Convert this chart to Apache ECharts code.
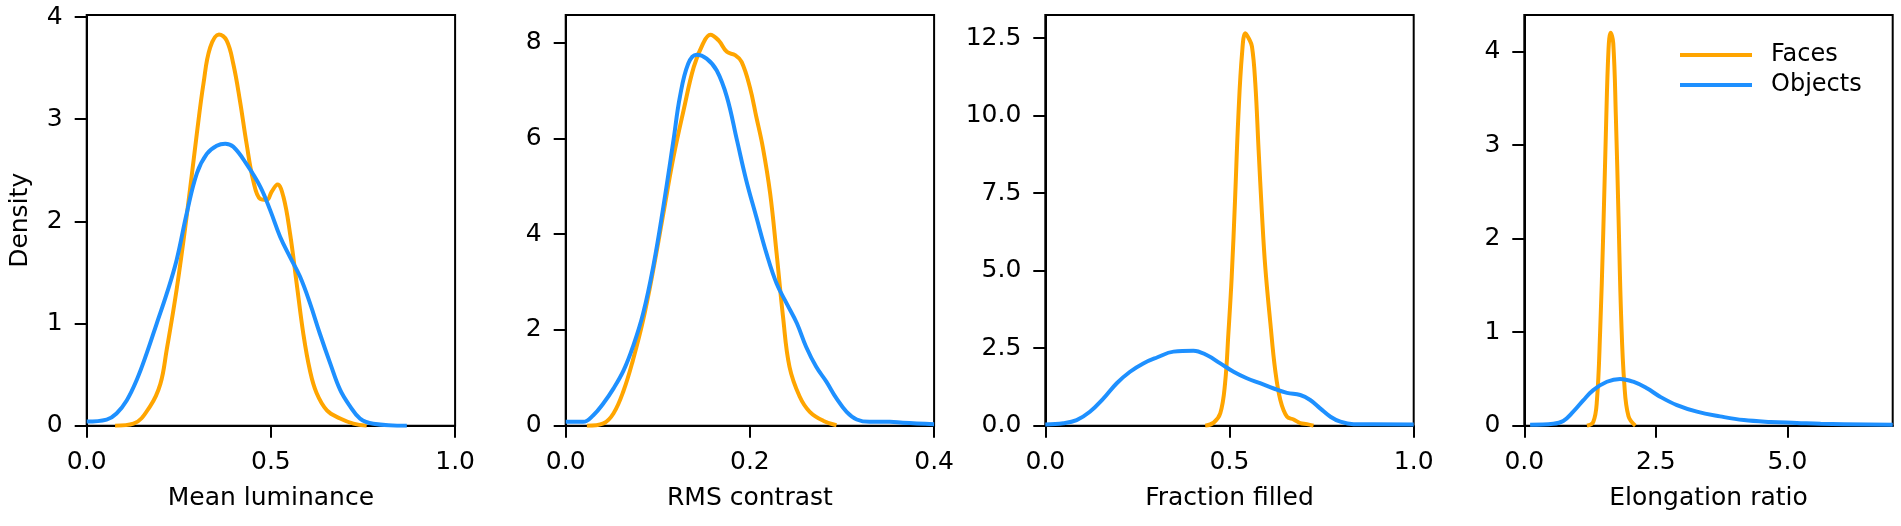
<!DOCTYPE html>
<html>
<head>
<meta charset="utf-8">
<script src="https://cdn.jsdelivr.net/npm/echarts@6/dist/echarts.min.js"></script>
<style>
  html, body { margin: 0; padding: 0; background: #fff; }
  #chart { width: 1901px; height: 526px; }
</style>
</head>
<body>
<div id="chart"></div>
<script>
// 数据：每个面板两条密度曲线 [x, density]
var lumFaces = [[0.077,0],[0.127,0.02],[0.172,0.19],[0.2,0.41],[0.217,0.74],[0.244,1.33],[0.271,2.04],[0.299,2.86],[0.317,3.35],[0.335,3.70],[0.359,3.83],[0.38,3.77],[0.398,3.54],[0.416,3.18],[0.434,2.76],[0.452,2.40],[0.471,2.22],[0.489,2.21],[0.502,2.29],[0.518,2.36],[0.534,2.24],[0.552,1.88],[0.57,1.39],[0.588,0.90],[0.606,0.54],[0.624,0.32],[0.652,0.15],[0.688,0.07],[0.724,0.02],[0.76,0]];
var lumObjects = [[0,0.04],[0.054,0.06],[0.081,0.12],[0.109,0.25],[0.136,0.45],[0.163,0.71],[0.19,1.0],[0.217,1.29],[0.244,1.62],[0.271,2.07],[0.299,2.47],[0.326,2.66],[0.353,2.74],[0.376,2.76],[0.398,2.73],[0.434,2.56],[0.471,2.34],[0.498,2.11],[0.525,1.85],[0.552,1.65],[0.579,1.46],[0.606,1.20],[0.633,0.90],[0.661,0.61],[0.688,0.35],[0.715,0.19],[0.742,0.07],[0.778,0.02],[0.869,0]];

var rmsFaces = [[0.023,0],[0.041,0.05],[0.052,0.26],[0.063,0.74],[0.073,1.37],[0.084,2.2],[0.095,3.25],[0.106,4.43],[0.117,5.61],[0.128,6.59],[0.139,7.49],[0.149,7.98],[0.157,8.17],[0.166,8.05],[0.175,7.81],[0.184,7.74],[0.191,7.60],[0.2,7.07],[0.207,6.45],[0.214,5.82],[0.222,4.85],[0.229,3.6],[0.236,2.27],[0.243,1.23],[0.254,0.61],[0.265,0.29],[0.28,0.10],[0.294,0.01]];
var rmsObjects = [[0,0.08],[0.019,0.08],[0.030,0.22],[0.041,0.47],[0.052,0.78],[0.063,1.16],[0.073,1.65],[0.084,2.34],[0.095,3.32],[0.106,4.57],[0.117,5.96],[0.124,6.87],[0.133,7.56],[0.142,7.75],[0.153,7.67],[0.164,7.42],[0.175,6.87],[0.186,5.96],[0.196,5.13],[0.207,4.36],[0.218,3.6],[0.229,2.97],[0.240,2.55],[0.251,2.14],[0.261,1.65],[0.272,1.23],[0.283,0.92],[0.294,0.57],[0.305,0.29],[0.316,0.13],[0.330,0.08],[0.352,0.08],[0.366,0.06],[0.4,0.03]];

var fillFaces = [[0.434,0],[0.457,0.1],[0.475,0.4],[0.488,1.37],[0.497,2.98],[0.506,4.81],[0.515,7.28],[0.524,9.97],[0.534,12.0],[0.543,12.66],[0.552,12.5],[0.561,12.23],[0.57,11.05],[0.579,8.9],[0.588,6.85],[0.597,5.13],[0.611,3.3],[0.624,1.8],[0.638,0.83],[0.656,0.29],[0.674,0.2],[0.692,0.08],[0.71,0.05],[0.728,0]];
var fillObjects = [[0,0.04],[0.049,0.08],[0.085,0.18],[0.121,0.45],[0.158,0.88],[0.194,1.37],[0.23,1.74],[0.266,2.01],[0.303,2.2],[0.348,2.39],[0.402,2.42],[0.438,2.28],[0.475,2.01],[0.511,1.74],[0.547,1.53],[0.583,1.37],[0.62,1.2],[0.656,1.06],[0.692,0.99],[0.719,0.83],[0.746,0.56],[0.774,0.29],[0.801,0.13],[0.837,0.05],[1.0,0.04]];

var elongFaces = [[1.19,0],[1.31,0.04],[1.38,0.27],[1.44,0.99],[1.50,2.06],[1.55,3.13],[1.60,4.02],[1.64,4.2],[1.69,4.09],[1.74,3.3],[1.79,2.24],[1.84,1.17],[1.90,0.45],[1.98,0.1],[2.11,0]];
var elongObjects = [[0.11,0.01],[0.55,0.02],[0.74,0.05],[0.93,0.15],[1.12,0.27],[1.31,0.38],[1.57,0.47],[1.82,0.5],[2.07,0.47],[2.33,0.4],[2.58,0.31],[2.90,0.22],[3.28,0.15],[3.72,0.10],[4.17,0.06],[4.68,0.04],[5.18,0.03],[5.63,0.02],[7.0,0.01]];

// 坐标轴标题与刻度
var xNames = ['Mean luminance', 'RMS contrast', 'Fraction filled', 'Elongation ratio'];
var xTicks = [[0, 0.5, 1.0], [0, 0.2, 0.4], [0, 0.5, 1.0], [0, 2.5, 5.0]];
var yTicks = [[0, 1, 2, 3, 4], [0, 2, 4, 6, 8], [0, 2.5, 5, 7.5, 10, 12.5], [0, 1, 2, 3, 4]];
var xMax = [1.0, 0.4, 1.0, 7.0];
var yMax = [4.02, 8.58, 13.25, 4.39];
var xDigits = [1, 1, 1, 1];
var yDigits = [0, 0, 1, 0];
var seriesNames = ['Faces', 'Objects'];
var panelData = [[lumFaces, lumObjects], [rmsFaces, rmsObjects], [fillFaces, fillObjects], [elongFaces, elongObjects]];

var colors = ['#ffa500', '#1e90ff'];
var font = 'DejaVu Sans';
var gridLeft = [86.7, 565.7, 1045.3, 1524.3];

(function() {
    var myChart = echarts.init(document.getElementById('chart'));
    var grids = [], xAxes = [], yAxes = [], series = [];

    for (var i = 0; i < 4; i++) {
        grids.push({
            left: gridLeft[i], top: 15, width: 368.4, height: 410.7,
            show: true, borderColor: '#000', borderWidth: 2, backgroundColor: 'transparent'
        });
        (function(i) {
            xAxes.push({
                type: 'value', gridIndex: i, min: 0, max: xMax[i],
                name: xNames[i], nameLocation: 'middle', nameGap: 60,
                nameTextStyle: { fontFamily: font, fontSize: 25, color: '#000' },
                axisLine: { show: true, onZero: false, lineStyle: { color: '#000', width: 2 } },
                axisTick: { show: true, length: 12, customValues: xTicks[i], lineStyle: { color: '#000', width: 2 } },
                axisLabel: {
                    customValues: xTicks[i], margin: 24, fontFamily: font, fontSize: 25, color: '#000',
                    formatter: function(v) { return v.toFixed(xDigits[i]); }
                },
                splitLine: { show: false }
            });
            yAxes.push({
                type: 'value', gridIndex: i, min: 0, max: yMax[i],
                name: i === 0 ? 'Density' : '', nameLocation: 'middle', nameGap: 54,
                nameTextStyle: { fontFamily: font, fontSize: 25, color: '#000' },
                axisLine: { show: true, onZero: false, lineStyle: { color: '#000', width: 2 } },
                axisTick: { show: true, length: 12, customValues: yTicks[i], lineStyle: { color: '#000', width: 2 } },
                axisLabel: {
                    customValues: yTicks[i], margin: 24, fontFamily: font, fontSize: 25, color: '#000',
                    formatter: function(v) { return v.toFixed(yDigits[i]); }
                },
                splitLine: { show: false }
            });
        })(i);
        for (var s = 0; s < 2; s++) {
            series.push({
                name: seriesNames[s], type: 'line', xAxisIndex: i, yAxisIndex: i,
                data: panelData[i][s], smooth: 0.4, showSymbol: false, symbol: 'none',
                lineStyle: { color: colors[s], width: 4 }, itemStyle: { color: colors[s] },
                z: 2
            });
        }
    }

    var option = {
        animation: false,
        backgroundColor: '#fff',
        legend: {
            data: seriesNames, orient: 'vertical', left: 1675, top: 35,
            icon: 'rect', itemWidth: 72, itemHeight: 4, itemGap: 0,
            textStyle: { fontFamily: font, fontSize: 24, color: '#000', lineHeight: 30, padding: [0, 0, 0, 14] }
        },
        grid: grids,
        xAxis: xAxes,
        yAxis: yAxes,
        series: series
    };
    myChart.setOption(option);
})();
</script>
</body>
</html>
